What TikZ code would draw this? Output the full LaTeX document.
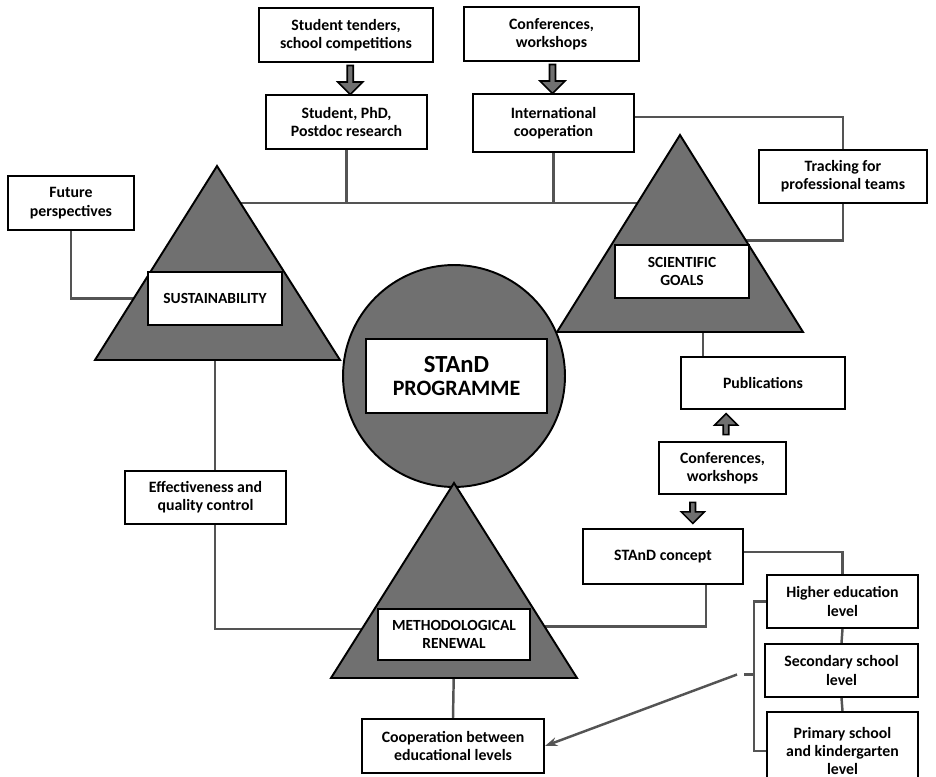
\documentclass[tikz,border=0pt]{standalone}
\usepackage{fontspec}
\setmainfont{Carlito}
\usetikzlibrary{calc,shapes.arrows,arrows.meta}
\definecolor{trigray}{gray}{0.44}
\definecolor{linegray}{gray}{0.33}
\pgfdeclarelayer{lines}
\pgfsetlayers{lines,main}

\begin{document}
\begin{tikzpicture}[
    x=0.02cm,y=-0.02cm,
    box/.style={draw,black,line width=1.1pt,fill=white,align=center,inner sep=0pt,
      minimum height=1.08cm,font=\bfseries\fontsize{9}{10.4}\selectfont},
    capbox/.style={box,font=\bfseries\fontsize{8.8}{10.6}\selectfont},
    shapefill/.style={draw,black,line width=1.1pt,fill=trigray},
    link/.style={draw,linegray,line width=1.4pt},
    downarrow/.style={draw,black,line width=0.9pt,fill=trigray,single arrow,inner sep=0pt,
      minimum height=0.58cm,minimum width=0.5cm,single arrow head extend=0.05cm,
      shape border rotate=270},
    smalldown/.style={downarrow,minimum height=0.42cm,minimum width=0.46cm},
    smallup/.style={smalldown,shape border rotate=90}
    ]
    \useasboundingbox (0,0) rectangle (936,777);
    \coordinate (hubY) at (0,203);
    \coordinate (sustTop) at (217,166);
    \coordinate (goalsTop) at (680,135);
    \coordinate (methTop) at (454,483);
    \filldraw[shapefill] (454,376) circle (2.22cm);
    \filldraw[shapefill] (sustTop) -- (340,360) -- (95,360) -- cycle;
    \filldraw[shapefill] (goalsTop) -- (803,332) -- (557,332) -- cycle;
    \filldraw[shapefill] (methTop) -- (577,678) -- (331,678) -- cycle;

    \node[box,minimum width=3.48cm] (tenders) at (346,35) {Student tenders,\\school competitions};
    \node[box,minimum width=3.22cm] (research) at (346.5,122) {Student, PhD,\\Postdoc research};
    \node[box,minimum width=3.5cm] (conftop) at (551.5,34) {Conferences,\\workshops};
    \node[box,minimum width=3.22cm,minimum height=1.16cm] (intl) at (553.5,123) {International\\cooperation};
    \node[box,minimum width=2.52cm] (future) at (71,203) {Future\\perspectives};
    \node[box,minimum width=3.36cm,minimum height=1.06cm] (tracking) at (843,176.5) {Tracking for\\professional teams};
    \node[capbox,minimum width=2.68cm,minimum height=1.06cm] (sustain) at (215,298.5) {SUSTAINABILITY};
    \node[capbox,minimum width=2.68cm,minimum height=1.06cm] (goals) at (682,271.5) {SCIENTIFIC\\GOALS};
    \node[box,minimum width=3.62cm,minimum height=1.48cm,font=\bfseries] (programme) at (456.5,376)
      {{\fontsize{14}{16}\selectfont STAnD}\\[1pt]{\fontsize{12.5}{14}\selectfont PROGRAMME}};
    \node[box,minimum width=3.28cm,minimum height=1.04cm] (publications) at (763,383) {Publications};
    \node[box,minimum width=2.54cm,minimum height=1.04cm] (conflow) at (722.5,468) {Conferences,\\workshops};
    \node[box,minimum width=3.2cm,minimum height=1.1cm] (concept) at (663,556.5) {STAnD concept};
    \node[box,minimum width=3.22cm,minimum height=1.06cm] (effect) at (205.5,497.5) {Effectiveness and\\quality control};
    \node[capbox,minimum width=3.04cm,minimum height=1.02cm] (renewal) at (454,634.5) {METHODOLOGICAL\\RENEWAL};
    \node[box,minimum width=3.64cm] (coop) at (453,746) {Cooperation between\\educational levels};
    \node[box,minimum width=3.02cm,minimum height=1.06cm] (higher) at (842.5,601.5) {Higher education\\level};
    \node[box,minimum width=3.06cm,minimum height=1.06cm] (secondary) at (841.5,670.5) {Secondary school\\level};
    \node[box,minimum width=3.02cm,minimum height=1.56cm] (primary) at (842.5,751) {Primary school\\and kindergarten\\level};

    \node[downarrow] (arr1) at ($(tenders.south)!0.5!(research.north)+(4,0)$) {};
    \node[downarrow] (arr2) at ($(conftop.south)!0.5!(intl.north)$) {};
    \node[smallup] (arr3) at ($(conflow.north)!0.5!(conflow.north |- publications.south)+(3.5,0)$) {};
    \node[smalldown] (arr4) at ($(conflow.south)!0.5!(concept.north)$) {};

    \begin{pgfonlayer}{lines}
      \draw[link] (sustTop |- hubY) -- (goalsTop |- hubY);
      \draw[link] (research.south) -- (research.south |- hubY);
      \draw[link] (intl.south) -- (intl.south |- hubY);
      \draw[link] (future.south) |- (sustain.west);
      \draw[link] ([yshift=0.12cm]intl.east) -| (tracking.north);
      \draw[link] (tracking.south) |- ([yshift=0.62cm]goals.center);
      \draw[link] (sustain.south) -- (sustain.south |- effect.north);
      \draw[link] (sustain.south |- effect.south) |- ([yshift=0.11cm]renewal.west);
      \draw[link] (renewal.south) -- (coop.north);
      \draw[link] ([xshift=0.86cm]concept.south) |- ([yshift=0.16cm]renewal.east);
      \draw[link] ([yshift=0.09cm]concept.east) -| (higher.north);
      \draw[link] (higher.south) -- (secondary.north);
      \draw[link] (secondary.south) -- (primary.north);
      \draw[link] ([xshift=-1.2cm]publications.north) -- ++(0,-30);
      \draw[link] (higher.west) -- ++(-12,0) |- (primary.west);
      \draw[link] ([yshift=-0.08cm]secondary.west) ++(-10,0) -- ++(-10,0) coordinate (brk);
      \draw[link,-{Stealth[length=7pt,width=5pt]}] ([xshift=-0.14cm]brk) -- (coop.east);
    \end{pgfonlayer}
  \end{tikzpicture}
\end{document}
